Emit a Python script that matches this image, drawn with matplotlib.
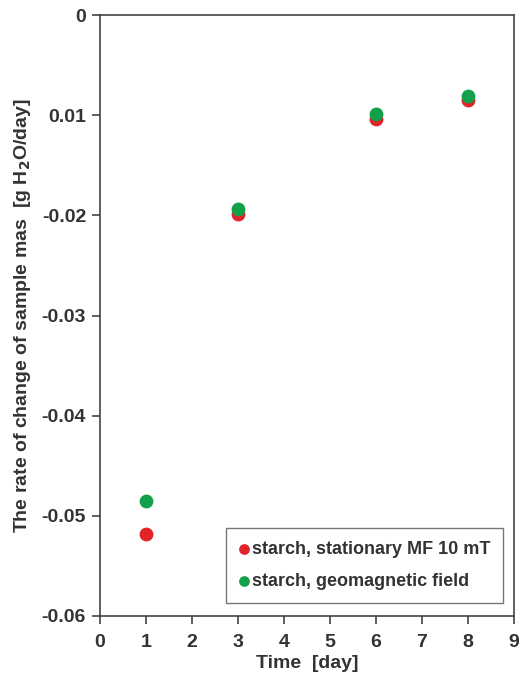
import matplotlib.pyplot as plt
from matplotlib.ticker import FixedLocator, FixedFormatter

days = [1, 3, 6, 8]
rate_stationary = [-0.0518, -0.0199, -0.0104, -0.0085]
rate_geomagnetic = [-0.0485, -0.0194, -0.0099, -0.0081]

yticks = [0, -0.01, -0.02, -0.03, -0.04, -0.05, -0.06]
ytick_labels = ['0', '0.01', '-0.02', '-0.03', '-0.04', '-0.05', '-0.06']
xticks = list(range(10))

plt.rcParams['font.family'] = ['Liberation Sans', 'DejaVu Sans']
plt.rcParams['font.weight'] = 'bold'

fig = plt.figure(figsize=(5.21, 6.8), dpi=100)
ax = fig.add_axes([100 / 521, 64 / 680, 414 / 521, 601 / 680])

ax.scatter(days, rate_stationary, s=80, color='#e0242a', zorder=3,
           label='starch, stationary MF 10 mT')
ax.scatter(days, rate_geomagnetic, s=80, color='#13a04a', zorder=3,
           label='starch, geomagnetic field')

ax.set_xlim(0, 9)
ax.set_ylim(-0.06, 0)
ax.xaxis.set_major_locator(FixedLocator(xticks))
ax.yaxis.set_major_locator(FixedLocator(yticks))
ax.yaxis.set_major_formatter(FixedFormatter(ytick_labels))

text_color = '#333333'
for s in ax.spines.values():
    s.set_color('#444444')
    s.set_linewidth(1.2)
ax.tick_params(direction='out', length=6, width=1.2, color='#444444',
               labelsize=14, labelcolor=text_color)
ax.tick_params(axis='x', pad=7)
ax.tick_params(axis='y', pad=4)
for lab in ax.get_xticklabels() + ax.get_yticklabels():
    lab.set_fontweight('bold')

ax.set_xlabel('Time  [day]', fontsize=14, fontweight='bold', color=text_color, labelpad=3)
ax.set_ylabel('The rate of change of sample mas  [g H$_\\mathbf{2}$O/day]', fontsize=14,
              fontweight='bold', color=text_color, labelpad=6)

leg = ax.legend(loc='lower right', bbox_to_anchor=(0.973, 0.022), borderaxespad=0,
                fontsize=13, frameon=True, fancybox=False, edgecolor='#555555',
                handletextpad=0.15, borderpad=0.7, labelspacing=0.85,
                markerscale=0.75, handlelength=0.6)
leg.get_frame().set_linewidth(1.0)
for t in leg.get_texts():
    t.set_color(text_color)
    t.set_fontweight('bold')

fig.savefig('out.png', dpi=100)
